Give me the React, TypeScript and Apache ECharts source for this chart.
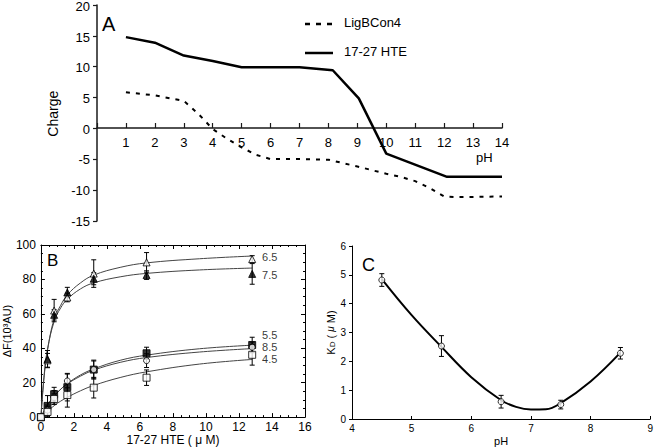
import React, { useEffect, useRef } from "react";
import * as echarts from "echarts";

// ---------- Panel A: charge vs pH ----------
const ligPH = [1, 2, 3, 3.5, 4.0, 4.5, 5.0, 5.5, 6.0, 7.0, 8.0, 9.0, 9.5, 10.0, 10.5, 11.0, 11.5, 12.0, 12.5, 14];
const ligCharge = [6.0, 5.5, 4.6, 2.5, 0.0, -1.6, -3.0, -4.2, -4.9, -4.9, -5.0, -6.1, -6.7, -7.3, -7.8, -8.5, -9.6, -11.0, -11.1, -11.0];
const htePH = [1, 2, 3, 4, 5, 6, 7, 8.15, 9.05, 10.0, 12.1, 14];
const hteCharge = [15, 14.1, 12, 11.1, 10.1, 10.1, 10.1, 9.6, 5.0, -4.0, -7.8, -7.8];
const legendA = ["LigBCon4", "17-27 HTE"];

// ---------- Panel B: fluorescence titration ----------
const concB = [0, 0.4, 0.8, 1.6, 3.2, 6.4, 12.8];
const f65 = [0, 33, 61.9, 69.5, 83.4, 89.9, 91.8];
const e65 = [0, 4, 6.5, 2.5, 8, 5.7, 2];
const f75 = [0, 33.7, 59.4, 72.4, 80.4, 82.5, 83.2];
const e75 = [0, 5, 3, 3, 3.5, 2.5, 6];
const f55 = [0, 6.5, 13.3, 17.4, 27.6, 37.1, 41.9];
const e55 = [0, 6, 4, 8, 5.5, 3.5, 4.5];
const f85 = [0, 4, 11.4, 21, 27.6, 32.8, 40.6];
const e85 = [0, 3, 4, 4, 5, 4, 3];
const f45 = [0, 3, 10.5, 12.8, 17.1, 22.9, 36.2];
const e45 = [0, 3, 3, 7, 6, 4.5, 6];

const curveX = [0, 0.2, 0.4, 0.8, 1.2, 1.6, 2.4, 3.2, 4.8, 6.4, 9.6, 12.8];
const c65 = [0, 24, 39, 57, 65, 71, 78, 82.5, 87, 89.6, 92, 93.6];
const c75 = [0, 25, 39.5, 55.5, 63.5, 68.5, 74.5, 78, 81.5, 83.5, 85.5, 86.6];
const c55 = [0, 3.7, 7, 12, 16.2, 19.5, 24.5, 28, 33, 36, 39.7, 41.8];
const c85 = [0, 3.8, 7.2, 12.3, 16.2, 19.3, 23.8, 27.3, 31.8, 34.6, 37.8, 39.8];
const c45 = [0, 1.8, 3.5, 6.6, 9.3, 11.5, 15.3, 18.4, 23, 26.3, 30.8, 33.5];

const bLabels = ["6.5", "7.5", "5.5", "8.5", "4.5"];
const bLabelX = [13.4, 13.4, 13.4, 13.4, 13.4];
const bLabelY = [93.2, 82.5, 47.8, 40.6, 33.8];

// ---------- Panel C: Kd vs pH ----------
const phC = [4.5, 5.5, 6.5, 7.5, 8.5];
const kdC = [4.82, 2.53, 0.6, 0.5, 2.28];
const kdErr = [0.22, 0.36, 0.22, 0.15, 0.2];
const curveCX = [4.5, 5.0, 5.5, 6.0, 6.5, 6.75, 7.0, 7.25, 7.5, 8.0, 8.5];
const curveCY = [4.85, 3.6, 2.5, 1.45, 0.65, 0.42, 0.33, 0.34, 0.55, 1.3, 2.3];

const FF = "'Liberation Sans', Arial, sans-serif";

const zip = (xs: number[], ys: number[]) => xs.map((x, i) => [x, ys[i]]);
const errRows = (xs: number[], ys: number[], es: number[]) =>
  xs.map((x, i) => [x, ys[i] - es[i], ys[i] + es[i]]).filter((r, i) => es[i] > 0);

const errRender = (cap: number) => (params: any, api: any) => {
  const x = api.value(0);
  const lo = api.value(1);
  const hi = api.value(2);
  const a = api.coord([x, hi]);
  const b = api.coord([x, lo]);
  return {
    type: "group",
    children: [
      { type: "line", shape: { x1: a[0], y1: a[1], x2: b[0], y2: b[1] }, style: { stroke: "#000", lineWidth: 1 } },
      { type: "line", shape: { x1: a[0] - cap, y1: a[1], x2: a[0] + cap, y2: a[1] }, style: { stroke: "#000", lineWidth: 1 } },
      { type: "line", shape: { x1: b[0] - cap, y1: b[1], x2: b[0] + cap, y2: b[1] }, style: { stroke: "#000", lineWidth: 1 } },
    ],
  };
};

const blk = () => ({ color: "#000", width: 1 });

// Axes-only layer for panel A (lines and ticks, no labels)
const optionAxesA = () => ({
  animation: false,
  grid: [{ left: 97, top: 5, width: 405, height: 216 }],
  xAxis: [
    {
      gridIndex: 0,
      type: "value",
      min: 0,
      max: 14,
      interval: 1,
      position: "bottom",
      offset: -93,
      axisLine: { show: true, onZero: false, lineStyle: { color: "#1a1a1a", width: 1.5 } },
      axisTick: { show: true, inside: true, length: 5, lineStyle: { color: "#1a1a1a", width: 1.2 } },
      axisLabel: { show: false },
      splitLine: { show: false },
    },
  ],
  yAxis: [
    {
      gridIndex: 0,
      type: "value",
      min: -15,
      max: 20,
      interval: 5,
      axisLine: { show: true, onZero: false, lineStyle: { color: "#1a1a1a", width: 1.5 } },
      axisTick: { show: true, length: 4, lineStyle: { color: "#1a1a1a", width: 1.2 } },
      axisLabel: { show: false },
      splitLine: { show: false },
    },
  ],
  series: [{ type: "line", data: [] as number[][], symbol: "none" }],
});

const optionA = () => ({
  animation: false,
  grid: [{ left: 97, top: 5, width: 405, height: 216 }],
  xAxis: [
    {
      gridIndex: 0,
      type: "value",
      min: 0,
      max: 14,
      interval: 1,
      position: "bottom",
      offset: -93,
      axisLine: { show: false },
      axisTick: { show: false },
      axisLabel: { showMinLabel: false, fontSize: 13, margin: 8, color: "#000", fontFamily: FF },
      splitLine: { show: false },
    },
  ],
  yAxis: [
    {
      gridIndex: 0,
      type: "value",
      min: -15,
      max: 20,
      interval: 5,
      axisLine: { show: false },
      axisTick: { show: false },
      axisLabel: { fontSize: 13, margin: 7, color: "#000", fontFamily: FF },
      splitLine: { show: false },
      name: "Charge",
      nameLocation: "middle",
      nameGap: 28,
      nameTextStyle: { fontSize: 14, color: "#000", fontFamily: FF },
    },
  ],
  series: [
    {
      type: "line",
      data: zip(ligPH, ligCharge),
      symbol: "none",
      lineStyle: { color: "#000", width: 2, type: [4, 6] },
    },
    {
      type: "line",
      data: zip(htePH, hteCharge),
      symbol: "none",
      lineStyle: { color: "#000", width: 2.5 },
    },
  ],
  graphic: [
    { type: "text", left: 102, top: 14, style: { text: "A", fontSize: 20, fill: "#000", fontFamily: FF } },
    { type: "text", left: 476, top: 151, style: { text: "pH", fontSize: 13, fill: "#000", fontFamily: FF } },
    { type: "line", shape: { x1: 305, y1: 24, x2: 333, y2: 24 }, style: { stroke: "#000", lineWidth: 2.5, lineDash: [5, 6] } },
    { type: "line", shape: { x1: 305, y1: 53, x2: 333, y2: 53 }, style: { stroke: "#000", lineWidth: 2.5 } },
    { type: "text", left: 344, top: 16, style: { text: legendA[0], fontSize: 13, fill: "#000", fontFamily: FF } },
    { type: "text", left: 344, top: 45, style: { text: legendA[1], fontSize: 13, fill: "#000", fontFamily: FF } },
  ],
});

const optionB = () => {
  const common = () => ({
    axisLine: { show: true, onZero: false, lineStyle: blk() },
    axisTick: { show: true, inside: true, length: 4, lineStyle: blk() },
    minorTick: { show: true, splitNumber: 4, length: 2, lineStyle: blk() },
    splitLine: { show: false },
  });
  const curve = (ys: number[]) => ({
    type: "line",
    data: zip(curveX, ys),
    symbol: "none",
    smooth: 0.4,
    lineStyle: { color: "#444", width: 1 },
    z: 2,
  });
  const marker = (ys: number[], symbol: string, filled: boolean, size: number) => ({
    type: "scatter",
    data: zip(concB, ys),
    symbol,
    symbolSize: size,
    itemStyle: { color: filled ? "#000" : "#fff", borderColor: "#000", borderWidth: 1 },
    z: 5,
  });
  const errs = [
    ...errRows(concB, f65, e65),
    ...errRows(concB, f75, e75),
    ...errRows(concB, f55, e55),
    ...errRows(concB, f85, e85),
    ...errRows(concB, f45, e45),
  ];
  return {
    animation: false,
    grid: { left: 37, top: 245, width: 268, height: 175 },
    xAxis: [
      {
        type: "value",
        min: 0,
        max: 16,
        interval: 2,
        position: "bottom",
        ...common(),
        axisLabel: { fontSize: 12, margin: 4, color: "#000", fontFamily: FF },
        name: "17-27 HTE ( μ M)",
        nameLocation: "middle",
        nameGap: 15,
        nameTextStyle: { fontSize: 12, color: "#000", fontFamily: FF },
      },
      { type: "value", min: 0, max: 16, interval: 2, position: "top", ...common(), axisLabel: { show: false } },
    ],
    yAxis: [
      {
        type: "value",
        min: 0,
        max: 100,
        interval: 20,
        position: "left",
        ...common(),
        axisLabel: { fontSize: 12, margin: 5, color: "#000", fontFamily: FF },
        name: "ΔF(10³AU)",
        nameLocation: "middle",
        nameGap: 16,
        nameTextStyle: { fontSize: 11, color: "#000", fontFamily: FF },
      },
      { type: "value", min: 0, max: 100, interval: 20, position: "right", ...common(), axisLabel: { show: false } },
    ],
    series: [
      curve(c65),
      curve(c75),
      curve(c55),
      curve(c85),
      curve(c45),
      {
        type: "custom",
        data: errs,
        encode: { x: 0, y: [1, 2] },
        renderItem: errRender(2.5),
        z: 3,
      },
      marker(f65, "triangle", false, 7),
      marker(f75, "triangle", true, 7),
      marker(f55, "rect", true, 7),
      marker(f85, "circle", false, 6),
      marker(f45, "rect", false, 7),
      {
        type: "scatter",
        data: bLabels.map((t, i) => ({ name: t, value: [bLabelX[i], bLabelY[i]] })),
        symbolSize: 0,
        itemStyle: { color: "transparent" },
        label: {
          show: true,
          position: "right",
          distance: 0,
          formatter: "{b}",
          fontSize: 11,
          lineHeight: 11,
          color: "#000",
          fontFamily: FF,
        },
        z: 6,
      },
    ],
    graphic: [{ type: "text", left: 47, top: 252, style: { text: "B", fontSize: 17, fill: "#000", fontFamily: FF } }],
  };
};

const optionC = () => ({
  animation: false,
  grid: { left: 352, top: 246, width: 301, height: 173 },
  xAxis: {
    type: "value",
    min: 4,
    max: 9,
    interval: 1,
    axisLine: { show: true, onZero: false, lineStyle: blk() },
    axisTick: { show: true, inside: true, length: 3, lineStyle: blk() },
    axisLabel: { fontSize: 10, margin: 4, color: "#000", fontFamily: FF },
    splitLine: { show: false },
    name: "pH",
    nameLocation: "middle",
    nameGap: 16,
    nameTextStyle: { fontSize: 11, color: "#000", fontFamily: FF },
  },
  yAxis: {
    type: "value",
    min: 0,
    max: 6,
    interval: 1,
    axisLine: { show: true, onZero: false, lineStyle: blk() },
    axisTick: { show: true, length: 3, lineStyle: blk() },
    axisLabel: { fontSize: 10, margin: 6, color: "#000", fontFamily: FF },
    splitLine: { show: false },
    name: "{k|K}{s|D}{k| ( }{m|μ}{k| M)}",
    nameLocation: "middle",
    nameGap: 13,
    nameTextStyle: {
      color: "#000",
      fontFamily: FF,
      rich: {
        k: { fontSize: 11, fontFamily: FF },
        s: { fontSize: 8, fontFamily: FF, verticalAlign: "bottom", padding: [4, 0, 0, 0] },
        m: { fontSize: 10, fontStyle: "italic", fontFamily: FF },
      },
    },
  },
  series: [
    {
      type: "line",
      data: zip(curveCX, curveCY),
      symbol: "none",
      smooth: 0.4,
      lineStyle: { color: "#000", width: 2 },
      z: 2,
    },
    {
      type: "custom",
      data: errRows(phC, kdC, kdErr),
      encode: { x: 0, y: [1, 2] },
      renderItem: errRender(2.5),
      z: 3,
    },
    {
      type: "scatter",
      data: zip(phC, kdC),
      symbol: "circle",
      symbolSize: 6,
      itemStyle: { color: "#fff", borderColor: "#000", borderWidth: 1 },
      z: 5,
    },
  ],
  graphic: [{ type: "text", left: 362, top: 256, style: { text: "C", fontSize: 18, fill: "#000", fontFamily: FF } }],
});

const layer: React.CSSProperties = { position: "absolute", left: 0, top: 0, width: 656, height: 447 };

export default function App() {
  const refAx = useRef<HTMLDivElement>(null);
  const refA = useRef<HTMLDivElement>(null);
  const refB = useRef<HTMLDivElement>(null);
  const refC = useRef<HTMLDivElement>(null);
  useEffect(() => {
    const charts: echarts.ECharts[] = [];
    const make = (el: HTMLDivElement | null, opt: any) => {
      if (!el) return;
      const c = echarts.init(el, null, { renderer: "svg" });
      c.setOption(opt);
      charts.push(c);
    };
    make(refAx.current, optionAxesA());
    make(refA.current, optionA());
    make(refB.current, optionB());
    make(refC.current, optionC());
    return () => charts.forEach((c) => c.dispose());
  }, []);
  return (
    <div style={{ position: "fixed", left: 0, top: 0, width: 656, height: 447, background: "#fff" }}>
      <div ref={refAx} style={layer} />
      <div ref={refA} style={layer} />
      <div ref={refB} style={layer} />
      <div ref={refC} style={layer} />
    </div>
  );
}
